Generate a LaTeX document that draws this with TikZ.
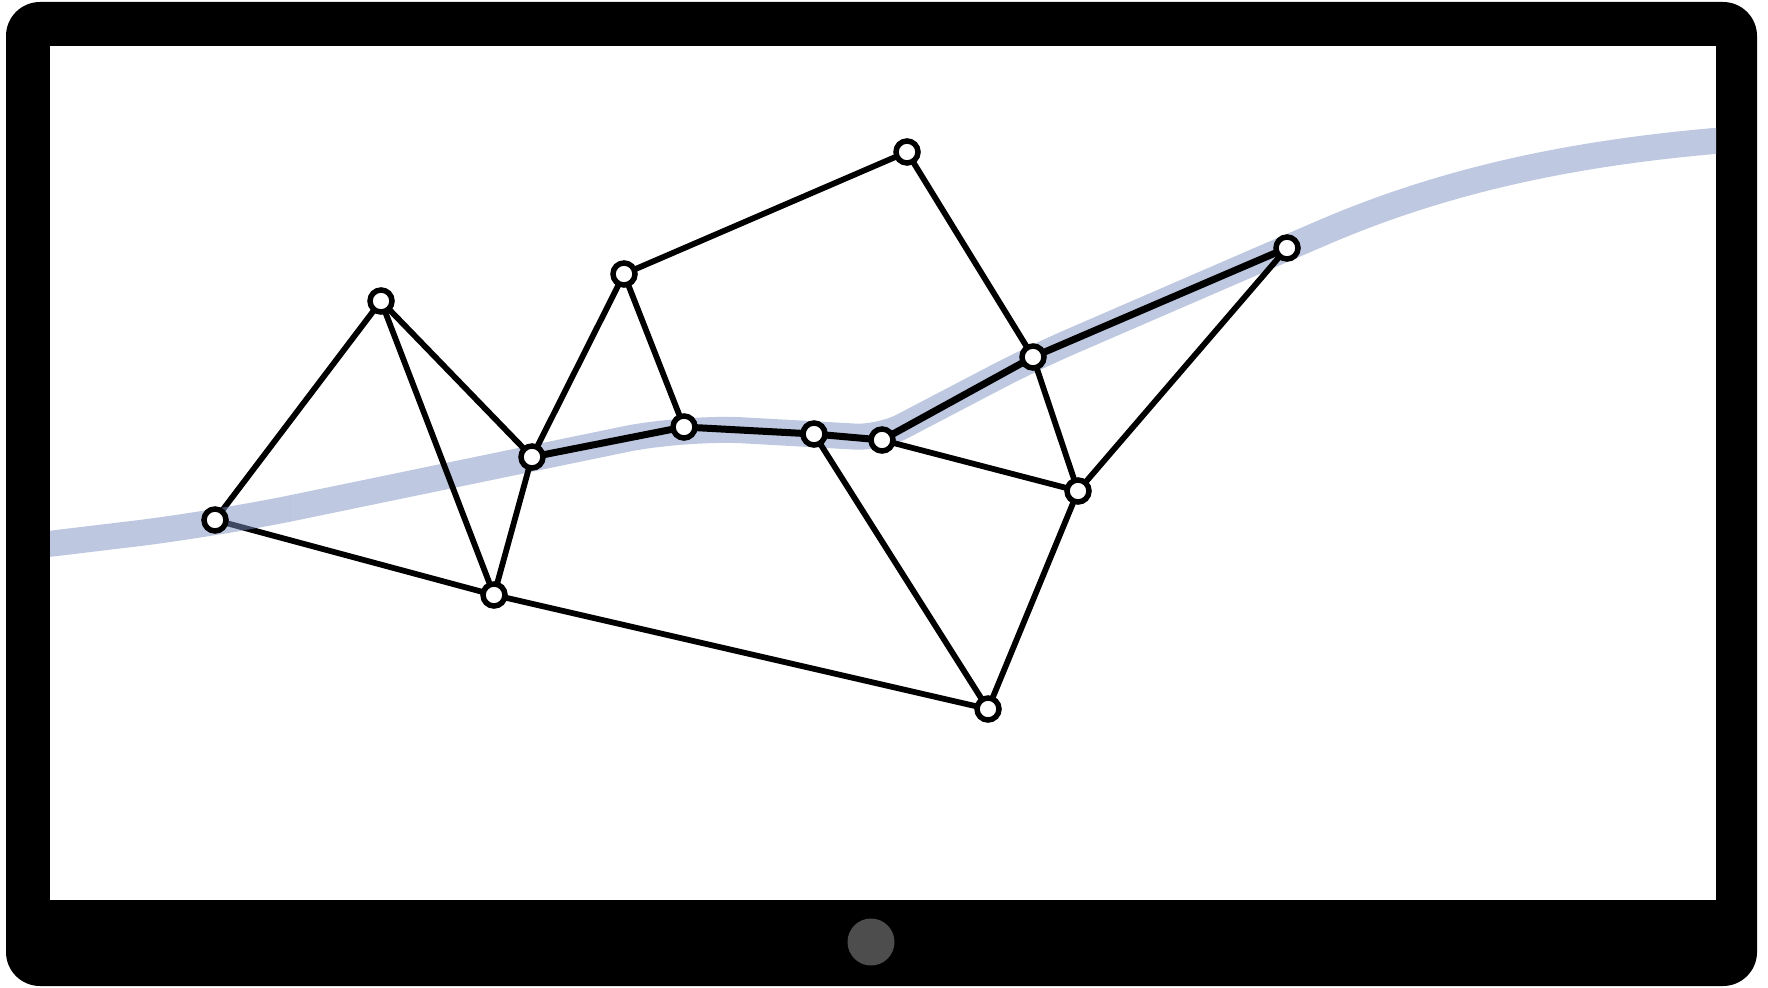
\documentclass[tikz,border=0pt]{standalone}
\usepackage{xcolor}
\usepackage{tikz}

\definecolor{bandhell}{RGB}{190,200,224}
\definecolor{banddunkel}{RGB}{125,145,193}
\definecolor{knopfgrau}{RGB}{77,77,77}

\tikzset{
    geraet/.style = {fill=black, rounded corners=34pt},
    schirm/.style = {fill=white},
    knopf/.style  = {fill=knopfgrau},
    knoten/.style = {circle, draw, fill=white, line width=5.5pt, inner sep=0pt,
                     minimum size=22pt},
    kante/.style  = {line width=5.8pt},
    route/.style  = {line width=7pt},
    band/.style   = {line width=26pt, draw=bandhell, line cap=butt}
}

\newcommand{\bandkurve}{(40,545) [rounded corners=80pt] -- (215,524)
    [rounded corners=60pt] -- (684,427) [rounded corners=25pt] -- (880,438)
    [rounded corners=40pt] -- (1033,358) -- (1287,248) [sharp corners]
    .. controls (1450,178) and (1580,152) .. (1726,140)}

\begin{document}
\begin{tikzpicture}[x=1pt, y=-1pt]
    \useasboundingbox (0,0) rectangle (1768,987);

    % --- Tablet ---
    \fill[geraet] (6,2) rectangle (1757,986);
    \fill[schirm] (50,46) rectangle (1716,900);
    \fill[knopf]  (871,942) circle (23.5);

    % --- Band, unterer Teil ---
    \begin{scope}
        \clip (290,46) rectangle (1716,900);
        \draw[band] \bandkurve;
    \end{scope}

    % --- Knoten ---
    \coordinate (a) at (215,520);
    \coordinate (b) at (381,301);
    \coordinate (c) at (494,595);
    \coordinate (d) at (532,457);
    \coordinate (e) at (624,274);
    \coordinate (f) at (684,427);
    \coordinate (g) at (814,434);
    \coordinate (h) at (882,440);
    \coordinate (i) at (907,152);
    \coordinate (j) at (1033,357);
    \coordinate (k) at (1078,491);
    \coordinate (l) at (988,709);
    \coordinate (m) at (1287,248);

    % --- Kanten ---
    \draw[kante] (a) -- (b);
    \draw[kante] (a) -- (c);
    \draw[kante] (b) -- (d);
    \draw[kante] (b) -- (c);
    \draw[kante] (d) -- (c);
    \draw[kante] (d) -- (e);
    \draw[kante] (e) -- (f);
    \draw[kante] (e) -- (i);
    \draw[kante] (i) -- (j);
    \draw[kante] (g) -- (l);
    \draw[kante] (h) -- (k);
    \draw[kante] (j) -- (k);
    \draw[kante] (k) -- (m);
    \draw[kante] (k) -- (l);
    \draw[kante] (c) -- (l);

    \draw[route] (d) -- (f) -- (g) -- (h) -- (j) -- (m);

    % --- Band, oberer Teil ---
    \begin{scope}
        \clip (50,46) rectangle (290,900);
        \draw[band, draw=banddunkel, draw opacity=0.5] \bandkurve;
    \end{scope}

    \foreach \n in {a,b,c,d,e,f,g,h,i,j,k,l,m}
        \node[knoten] at (\n) {};
\end{tikzpicture}
\end{document}
